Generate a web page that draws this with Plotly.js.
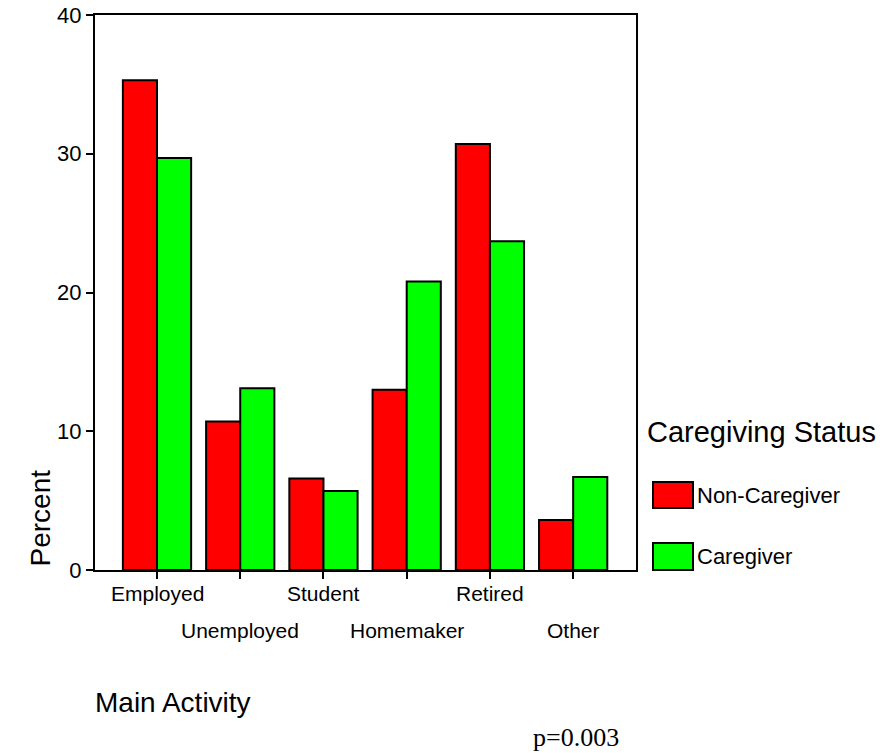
<!DOCTYPE html>
<html>
<head>
<meta charset="utf-8">
<script src="https://cdn.plot.ly/plotly-3.0.1.min.js"></script>
<style>html,body{margin:0;padding:0;background:#fff;}#chart{width:880px;height:753px;}</style>
</head>
<body>
<div id="chart"></div>
<script>
const categories = ["Employed", "Unemployed", "Student", "Homemaker", "Retired", "Other"];
const nonCaregiver = [35.3, 10.7, 6.6, 13.0, 30.7, 3.6];
const caregiver = [29.7, 13.1, 5.7, 20.8, 23.7, 6.7];
const seriesNames = ["Non-Caregiver", "Caregiver"];
const seriesColors = ["#FF0000", "#00FF00"];
const yTicks = [0, 10, 20, 30, 40];

const W = 880, H = 753;
const M = {l: 95, r: 244, t: 15, b: 183};
const PW = W - M.l - M.r, PH = H - M.t - M.b;
const px = x => (x - M.l) / PW;
const py = y => (H - M.b - y) / PH;

const font = "Liberation Sans, Arial, sans-serif";
const xIdx = categories.map((c, i) => i);

const traces = [nonCaregiver, caregiver].map((vals, k) => ({
  type: "bar",
  x: xIdx,
  y: vals,
  name: seriesNames[k],
  marker: {color: seriesColors[k], line: {color: "#000", width: 2}},
  hoverinfo: "x+y+name"
}));

const annotations = [];
categories.forEach((c, i) => {
  annotations.push({
    x: i, xref: "x", y: 0, yref: "paper", yanchor: "middle",
    yshift: i % 2 === 0 ? -23 : -60,
    text: c, showarrow: false, font: {family: font, size: 21, color: "#000"}
  });
});
annotations.push({
  x: px(22), xref: "paper", y: py(518), yref: "paper", yanchor: "middle",
  text: "Percent", textangle: -90, showarrow: false,
  font: {family: font, size: 28, color: "#000"}
});
annotations.push({
  x: px(93), xref: "paper", xanchor: "left", y: py(702), yref: "paper", yanchor: "middle",
  text: "Main Activity", showarrow: false,
  font: {family: font, size: 28, color: "#000"}
});
annotations.push({
  x: px(531), xref: "paper", xanchor: "left", y: py(737), yref: "paper", yanchor: "middle",
  text: "p=0.003", showarrow: false,
  font: {family: "Liberation Serif, Times New Roman, serif", size: 26, color: "#000"}
});
annotations.push({
  x: px(645), xref: "paper", xanchor: "left", y: py(432), yref: "paper", yanchor: "middle",
  text: "Caregiving Status", showarrow: false,
  font: {family: font, size: 29, color: "#000"}
});
const legendRows = [[482, 508], [543, 570]];
const shapes = [];
seriesNames.forEach((n, k) => {
  const [y0, y1] = legendRows[k];
  shapes.push({
    type: "rect", xref: "paper", yref: "paper",
    x0: px(653), x1: px(693), y0: py(y1), y1: py(y0),
    fillcolor: seriesColors[k], line: {color: "#000", width: 2}
  });
  annotations.push({
    x: px(695), xref: "paper", xanchor: "left", y: py((y0 + y1) / 2), yref: "paper", yanchor: "middle",
    text: n, showarrow: false,
    font: {family: font, size: 22, color: "#000"}
  });
});

const layout = {
  width: W, height: H,
  margin: M,
  paper_bgcolor: "#fff", plot_bgcolor: "#fff",
  showlegend: false,
  barmode: "group",
  bargap: 0.18,
  bargroupgap: 0,
  xaxis: {
    range: [-0.745, 5.755],
    tickvals: xIdx,
    showticklabels: false,
    ticks: "outside", ticklen: 7, tickwidth: 2, tickcolor: "#000",
    showline: true, linecolor: "#000", linewidth: 2, mirror: true,
    showgrid: false, zeroline: false, fixedrange: true
  },
  yaxis: {
    range: [0, 40],
    tickvals: yTicks,
    ticktext: yTicks.map(String),
    ticks: "outside", ticklen: 7, tickwidth: 2, tickcolor: "#000",
    tickfont: {family: font, size: 22, color: "#000"},
    showline: true, linecolor: "#000", linewidth: 2, mirror: true,
    showgrid: false, zeroline: false, fixedrange: true
  },
  annotations: annotations,
  shapes: shapes
};

Plotly.newPlot("chart", traces, layout, {displayModeBar: false, staticPlot: true});
</script>
</body>
</html>
